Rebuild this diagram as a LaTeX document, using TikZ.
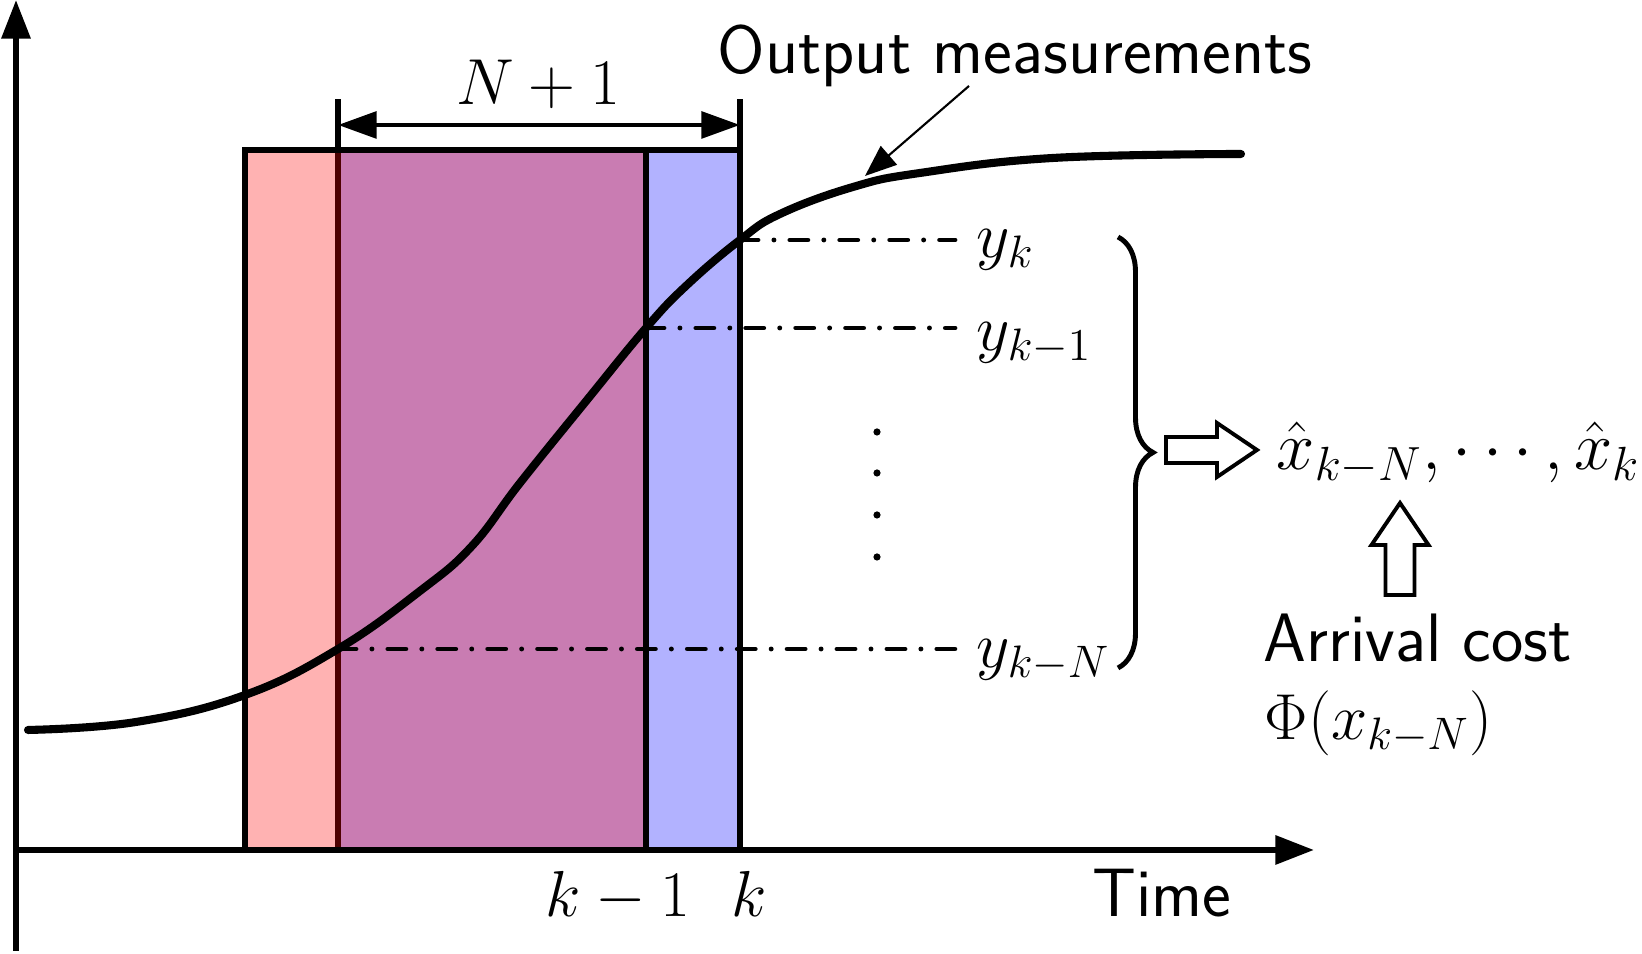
\RequirePackage{fix-cm}
\documentclass[tikz,border=0pt]{standalone}
\usetikzlibrary{arrows.meta,decorations.pathreplacing}

\tikzset{
  lbl/.style={inner sep=0pt, anchor=base west, font=\fontsize{18.5}{22}\selectfont},
  txtlbl/.style={lbl, font=\fontsize{19.5}{23}\selectfont\sffamily},
  win/.style={draw, line width=1.5pt, fill opacity=0.3},
  meas/.style={line width=1.4pt, line cap=round, dash pattern=on 5.1pt off 4.55pt on 0pt off 4.55pt},
  hollow/.style={draw, line width=1.1pt, fill=white},
  bigtip/.style={line width=1.4pt, {Triangle[length=11pt,width=7.5pt]}-{Triangle[length=11pt,width=7.5pt]}},
  axis/.style={line width=1.7pt, -{Triangle[length=11pt,width=8pt]}}
}

\begin{document}
\begin{tikzpicture}
  \useasboundingbox (0,0) rectangle (16.42,9.54);

  % estimation window
  \draw[win, fill=blue] (3.38,1.04) rectangle (7.40,8.04);
  \draw[win, fill=red]  (2.45,1.04) rectangle (6.46,8.04);
  \draw[line width=1.5pt] (3.38,8.04) -- (3.38,8.55);
  \draw[line width=1.5pt] (7.40,8.04) -- (7.40,8.55);
  \draw[bigtip] (3.38,8.29) -- (7.40,8.29);
  \node[lbl] (winlbl) at (4.56,8.49) {$N+1$};

  % axes
  \draw[axis] (0.16,0.03) -- (0.16,9.54);
  \draw[axis] (0.16,1.04) -- (13.14,1.04);
  \node[lbl] (tkm1) at (5.45,0.37) {$k-1$};
  \node[lbl] (tk)   at (7.31,0.37) {$k$};
  \node[txtlbl] (timelbl) at (10.92,0.37) {Time};

  % output curve
  \coordinate (pkN) at (3.38,3.05);
  \coordinate (pk1) at (6.46,6.26);
  \coordinate (pk)  at (7.40,7.14);
  \coordinate (meas) at (8.65,7.78);
  \draw[line width=2.3pt, line cap=round] plot[smooth, tension=0.7] coordinates {
    (0.28,2.24) (1.36,2.32) (2.45,2.59) (pkN) (4.20,3.63) (4.72,4.08)
    (5.20,4.71) (5.87,5.54) (pk1) (6.87,6.69) (pk) (7.80,7.40) (8.53,7.67)
    (9.20,7.81) (10.53,7.96) (12.41,8.00)};

  \node[txtlbl] (outlbl) at (7.17,8.80) {Output measurements};
  \coordinate (measfrom) at (9.69,8.68);
  \draw[line width=0.6pt, -{Triangle[length=9pt,width=7pt]}] (measfrom) -- (meas);

  % sampled outputs
  \coordinate (ekN) at (9.55,3.05);
  \coordinate (ek1) at (9.55,6.26);
  \coordinate (ek)  at (9.55,7.14);
  \draw[meas] (pk)  -- (ek);
  \draw[meas] (pk1) -- (ek1);
  \draw[meas] (pkN) -- (ekN);
  \node[lbl] (yk)  at (9.76,6.96) {$y_k$};
  \node[lbl] (yk1) at (9.76,6.03) {$y_{k-1}$};
  \node[lbl] (ykN) at (9.76,2.86) {$y_{k-N}$};
  \foreach \y in {5.22,4.81,4.39,3.97}
    \fill (8.77,\y) circle (0.036);

  % brace and estimates
  \coordinate (brtop) at (11.18,7.17);
  \coordinate (brbot) at (11.18,2.86);
  \draw[line width=1.4pt, decorate, decoration={brace, amplitude=0.35cm}] (brtop) -- (brbot);
  \draw[hollow] (11.66,5.17) -- (12.17,5.17) -- (12.17,5.31) -- (12.57,5.04)
    -- (12.17,4.77) -- (12.17,4.91) -- (11.66,4.91) -- cycle;
  \node[lbl, font=\fontsize{19.5}{23}\selectfont] (xhat) at (12.76,4.84)
    {$\hat{x}_{k-N}, \cdots, \hat{x}_k$};
  \draw[hollow] (13.855,3.59) -- (13.855,4.09) -- (13.715,4.09) -- (14.00,4.51)
    -- (14.285,4.09) -- (14.145,4.09) -- (14.145,3.59) -- cycle;
  \node[txtlbl] (arrlbl) at (12.63,2.92) {Arrival cost};
  \node[lbl] (philbl) at (12.64,2.14) {$\Phi(x_{k-N})$};
\end{tikzpicture}
\end{document}
